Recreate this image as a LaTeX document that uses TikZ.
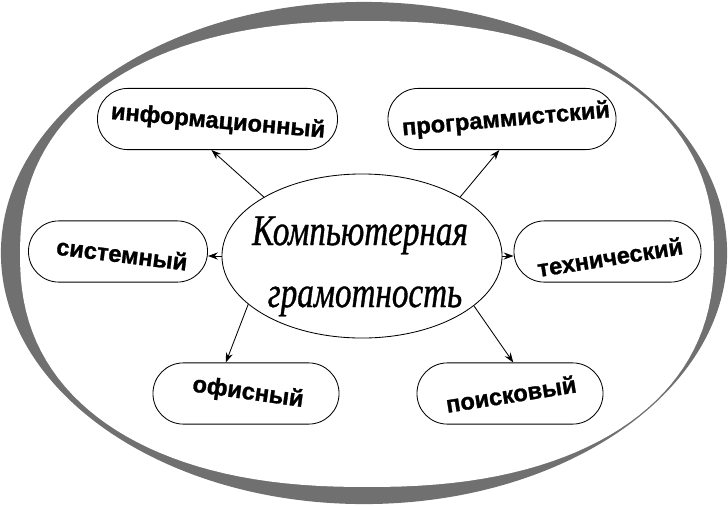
\documentclass[tikz,border=0pt]{standalone}
\usepackage{fontspec}
\usetikzlibrary{shapes.geometric, arrows.meta}
\newfontfamily\kindfont{Liberation Sans}[BoldFeatures={FakeBold=1.2}]
\newfontfamily\titlefont[FakeStretch=0.76, ItalicFeatures={FakeBold=0.8}]{Liberation Serif}
\definecolor{ringdark}{RGB}{112,112,112}
\definecolor{ringlight}{RGB}{172,172,172}

\begin{document}
\begin{tikzpicture}[
		x=0.025cm, y=-0.025cm,                    % 1 unit = 1 px of the picture
		kind/.style = {
			rectangle,
			rounded corners=0.76cm,
			draw=black,
			line width=0.6pt,
			fill=white,
			minimum height=1.53cm,
			inner sep=0pt
		},
		kindtext/.style = {font=\kindfont\bfseries\fontsize{16.8}{18}\selectfont, inner sep=0pt},
		titletext/.style = {font=\titlefont\itshape\fontsize{31}{32}\selectfont, inner sep=0pt, anchor=base},
		link/.style = {-{Stealth[length=7pt,width=5pt]}, line width=0.6pt}
		]
		
		\useasboundingbox (0,0) rectangle (728,506);
		
		% Ring
		\shade[left color=ringdark, middle color=ringlight, right color=ringdark]
			(364,253) ellipse [x radius=9.075cm, y radius=6.275cm];
		\fill[white] plot[domain=1:361, samples=145]
			({367+347*cos(\x)*exp(-0.13*ln(abs(cos(\x))))}, {254+233*sin(\x)*exp(-0.13*ln(abs(sin(\x))))}) -- cycle;
		
		% Centre
		\node[ellipse, draw, line width=0.6pt, fill=white, minimum width=7cm, minimum height=4.1cm, inner sep=0pt] (kg) at (362,256) {};
		\node[titletext] (kgtop) at (360,245) {Компьютерная};
		\node[titletext] (kgbot) at (365,307) {грамотность};
		
		% Kinds
		\node[kind, minimum width=6cm] (info) at (217.5,119) {};
		\node[kind, minimum width=5.7cm] (prog) at (502,119) {};
		\node[kind, minimum width=4.475cm] (sys) at (118,251.5) {};
		\node[kind, minimum width=4.675cm] (tech) at (607.5,251.5) {};
		\node[kind, minimum width=4.65cm] (office) at (246,393.5) {};
		\node[kind, minimum width=4.65cm] (search) at (510,393.5) {};
		
		\node[kindtext, rotate=-5] (infotext) at (218,122) {информационный};
		\node[kindtext, rotate=5] (progtext) at (506,120) {программистский};
		\node[kindtext, rotate=-7] (systext) at (122,254) {системный};
		\node[kindtext, rotate=9] (techtext) at (610,257) {технический};
		\node[kindtext, rotate=-8] (officetext) at (248,393) {офисный};
		\node[kindtext, rotate=9] (searchtext) at (511,394) {поисковый};
		
		% Arrows
		\draw[link] (kg.149.5) -- (info.-101);
		\draw[link] (kg.31) -- (prog.-95);
		\draw[link] (kg.west) -- (kg.west -| sys.east);
		\draw[link] (kg.east) -- (kg.east -| tech.west);
		\draw[link] (kg.203.4) -- (office.123.7);
		\draw[link] (kg.336.2) -- (search.84.6);
		
	\end{tikzpicture}
\end{document}
